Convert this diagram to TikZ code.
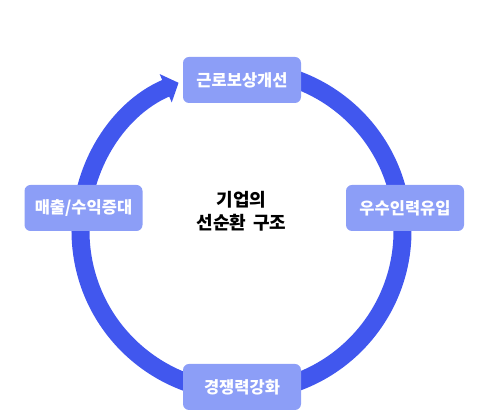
\documentclass[tikz,border=0pt]{standalone}
\usepackage{fontspec}
\usepackage{tikz}
\usetikzlibrary{positioning,arrows.meta}
\newfontfamily\krfont{Noto Sans CJK KR}[BoldFont={Noto Sans CJK KR Black}]
\definecolor{ring}{HTML}{4157EE}
\definecolor{stage}{HTML}{8C9EF7}

\begin{document}
\begin{tikzpicture}[x=1pt,y=1pt,
  font=\krfont\bfseries\fontsize{16.5pt}{19pt}\selectfont,
  stagebox/.style={fill=stage, rounded corners=6pt, text=white,
    minimum width=118pt, minimum height=46pt, inner sep=0pt}]
\useasboundingbox (0,0) rectangle (483,420);
\coordinate (hub) at (241.5,189);
% the cycle, ending in an arrow at the top box
\draw[ring, line width=18pt, -{Triangle[length=14pt,width=30pt]}]
  (hub) ++(95:161) arc[start angle=95, end angle=-247, radius=161];
\node[stagebox] (pay) at (242,340) {근로보상개선};
\node[stagebox] (talent) at (405,212) {우수인력유입};
\node[stagebox] (compete) at (242,33) {경쟁력강화};
\node[stagebox] (sales) at (83.5,212) {매출/수익증대};
\node[align=center, font=\krfont\bfseries\fontsize{18pt}{23pt}\selectfont] (core) at (241.5,208.5) {기업의\\선순환\hspace{0.4em}구조};
\end{tikzpicture}
\end{document}
